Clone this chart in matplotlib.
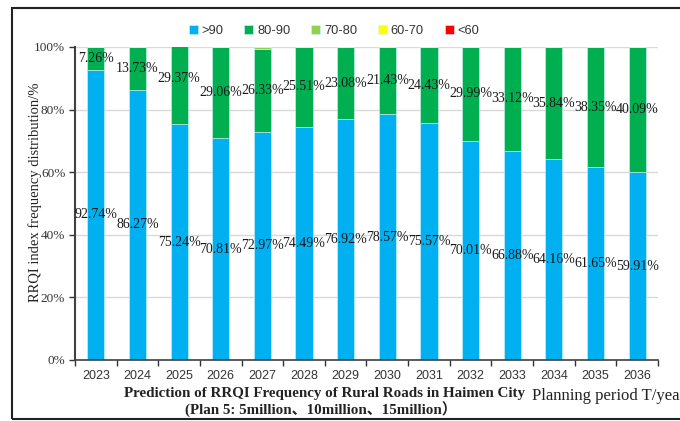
import matplotlib
matplotlib.use("Agg")
import matplotlib.pyplot as plt
from matplotlib.patches import Rectangle
import numpy as np

years = ["2023", "2024", "2025", "2026", "2027", "2028", "2029",
         "2030", "2031", "2032", "2033", "2034", "2035", "2036"]
gt90 = [92.74, 86.27, 75.24, 70.81, 72.97, 74.49, 76.92,
        78.57, 75.57, 70.01, 66.88, 64.16, 61.65, 59.91]
r80_90 = [7.26, 13.73, 29.37, 29.06, 26.33, 25.51, 23.08,
          21.43, 24.43, 29.99, 33.12, 35.84, 38.35, 40.09]
r70_80 = [0, 0, 0, 0.13, 0.70, 0, 0, 0, 0, 0, 0, 0, 0, 0]
r60_70 = [0] * 14
lt60 = [0] * 14
series_names = [">90", "80-90", "70-80", "60-70", "<60"]
colors = ["#00B0F0", "#00B050", "#92D050", "#FFFF00", "#FF0000"]

serif = ["Liberation Serif", "Noto Sans CJK SC"]
sans = ["Liberation Sans", "DejaVu Sans"]

fig = plt.figure(figsize=(6.8, 4.21), dpi=100)
ax = fig.add_axes([75/680, 1-360/421, (658-75)/680, (360-47)/421])

x = np.arange(len(years))
bottom = np.zeros(len(years))
handles = []
for vals, name, c in zip([gt90, r80_90, r70_80, r60_70, lt60], series_names, colors):
    v = np.array(vals, dtype=float)
    b = ax.bar(x, v, width=0.41, bottom=bottom, color=c, label=name,
               edgecolor="#CFF3FC", linewidth=0.4, zorder=2)
    handles.append(b)
    bottom = bottom + v

# data labels for >90 and 80-90
for i in range(len(years)):
    ax.text(x[i], gt90[i] / 2, f"{gt90[i]:.2f}%", ha="center", va="center",
            family=serif, fontsize=10, color="#1a1a1a", zorder=3)
    ax.text(x[i], gt90[i] + r80_90[i] / 2, f"{r80_90[i]:.2f}%", ha="center", va="center",
            family=serif, fontsize=10, color="#1a1a1a", zorder=3)

ax.set_xlim(-0.5, 13.5)
ax.set_ylim(0, 100)
ax.set_yticks(np.arange(0, 101, 20))
ax.set_yticklabels([f"{v}%" for v in range(0, 101, 20)], family=serif, fontsize=9.5, color="#333333")
ax.set_xticks(x)
ax.set_xticklabels(years, family=sans, fontsize=9, color="#333333")
ax.set_xticks(np.arange(-0.5, 14, 1), minor=True)
ax.tick_params(axis="x", which="major", length=0, pad=7)
ax.tick_params(axis="x", which="minor", length=4, width=1, color="#333333", direction="out")
ax.tick_params(axis="y", length=4, width=1, color="#333333", direction="out", pad=3)
ax.grid(axis="y", color="#D9D9D9", linewidth=1, zorder=0)
ax.set_axisbelow(True)
for s in ["top", "right"]:
    ax.spines[s].set_visible(False)
ax.spines["left"].set_color("#404040")
ax.spines["left"].set_linewidth(1.5)
ax.spines["bottom"].set_color("#404040")
ax.spines["bottom"].set_linewidth(1.2)

fig.text(35/680, 1-192/421, "RRQI index frequency distribution/%", rotation=90,
         ha="center", va="center", family=serif, fontsize=10.5, color="#222222")

fig.text(325/680, 1-393/421, "Prediction of RRQI Frequency of Rural Roads in Haimen City",
         ha="center", va="center", family=serif, fontsize=10.8, fontweight="bold", color="#222222")
fig.text(321/680, 1-410/421, "(Plan 5: 5million、10million、15million）",
         ha="center", va="center", family=serif, fontsize=10.8, fontweight="bold", color="#222222")
fig.text(532/680, 1-396/421, "Planning period T/year",
         ha="left", va="center", family=serif, fontsize=12, color="#222222")

leg = fig.legend(handles=handles, labels=series_names, loc="center", bbox_to_anchor=(334/680, 1-31/421),
                 ncol=5, frameon=False, prop={"family": sans, "size": 9.3},
                 handlelength=0.7, handleheight=0.7, handletextpad=0.3, columnspacing=1.6)
for t in leg.get_texts():
    t.set_color("#333333")

# outer border
fig.patches.append(Rectangle((12/680, 2/421), 1.2, 1-10/421, transform=fig.transFigure,
                             fill=False, edgecolor="#222222", linewidth=1.5))

fig.savefig("out.png", dpi=100)
